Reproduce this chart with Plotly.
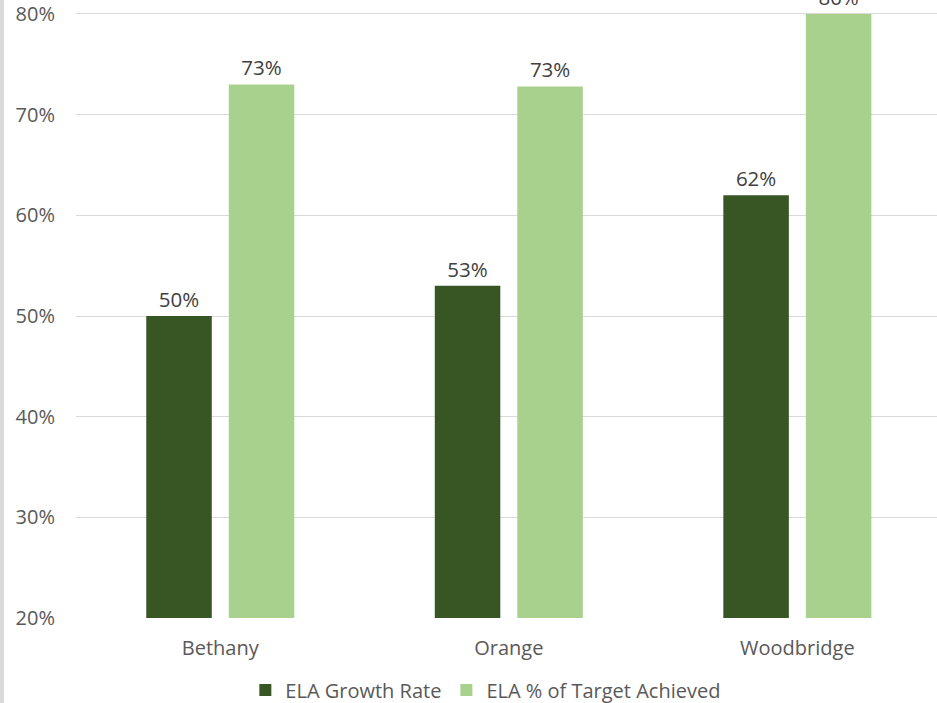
import plotly.graph_objects as go

categories = ["Bethany", "Orange", "Woodbridge"]
growth_rate = [0.50, 0.53, 0.62]
target_achieved = [0.73, 0.728, 0.80]
growth_labels = ["50%", "53%", "62%"]
target_labels = ["73%", "73%", "80%"]
y_ticks = [0.2, 0.3, 0.4, 0.5, 0.6, 0.7, 0.8]
y_tick_labels = ["20%", "30%", "40%", "50%", "60%", "70%", "80%"]

FONT = "Open Sans"
TXT = "#595959"

fig = go.Figure()
fig.add_trace(go.Bar(
    x=categories, y=growth_rate, name="ELA Growth Rate",
    marker=dict(color="#375623", line=dict(width=0)),
    text=growth_labels, textposition="outside", cliponaxis=False,
    textfont=dict(family=FONT, size=20.5, color="#404040"),
))
fig.add_trace(go.Bar(
    x=categories, y=target_achieved, name="ELA % of Target Achieved",
    marker=dict(color="#A9D18E", line=dict(width=0)),
    text=target_labels, textposition="outside", cliponaxis=False,
    textfont=dict(family=FONT, size=20.5, color="#404040"),
))

fig.update_layout(
    width=937, height=703,
    margin=dict(l=76, r=0, t=0, b=85, autoexpand=False),
    paper_bgcolor="white", plot_bgcolor="white",
    barmode="group", bargap=0.428, bargroupgap=0.206,
    font=dict(family=FONT, size=20, color=TXT),
    showlegend=True,
    legend=dict(orientation="h", x=0.476, xanchor="center", y=-0.085, yanchor="top",
                font=dict(family=FONT, size=20, color=TXT),
                itemwidth=30, traceorder="normal"),
    shapes=[dict(type="rect", xref="paper", yref="paper", x0=-76/861, x1=-72/861,
                 y0=-85/618, y1=1, fillcolor="#d9d9d9", line=dict(width=0), layer="below")],
)
fig.update_yaxes(
    range=[0.2, 0.8139], tickvals=y_ticks, ticktext=y_tick_labels,
    showgrid=True, gridcolor="#d9d9d9", gridwidth=1, zeroline=False,
    showline=False, ticks="", ticklabelstandoff=20, automargin=False,
    ticklabeloverflow="allow",
    tickfont=dict(family=FONT, size=20, color=TXT),
)
fig.update_xaxes(
    range=[-0.5, 2.484],
    showgrid=False, showline=False, ticks="", ticklabelstandoff=16, automargin=False,
    ticklabeloverflow="allow",
    tickfont=dict(family=FONT, size=20, color=TXT),
)

fig.write_html("out.html", post_script="document.body.style.margin='0';",
               config={"displayModeBar": False})
